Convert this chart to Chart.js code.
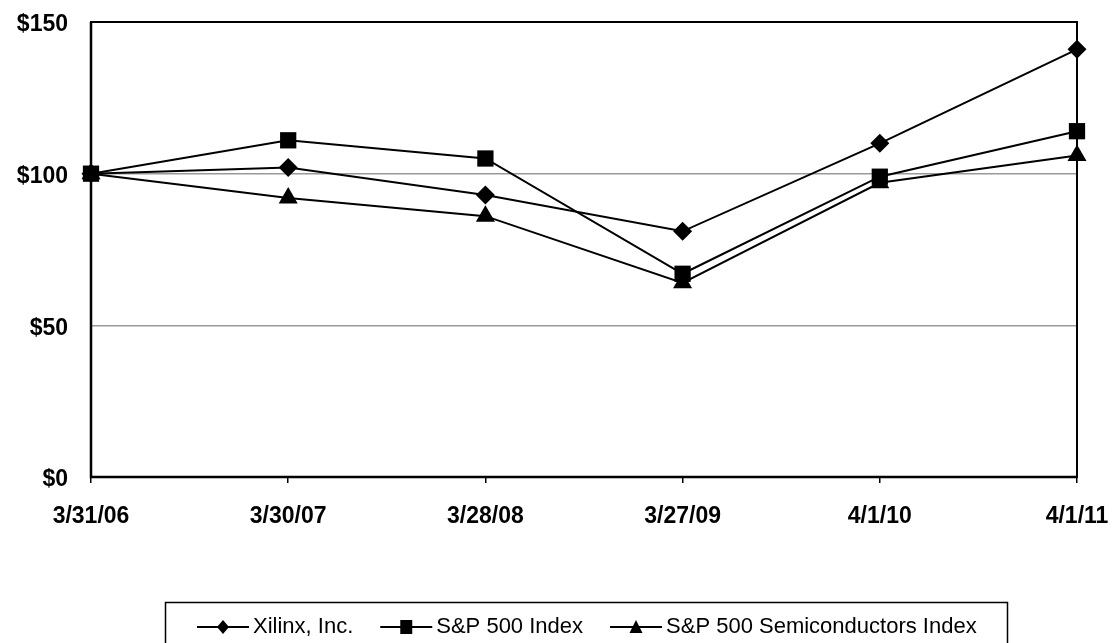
<!DOCTYPE html>
<html>
<head>
<meta charset="utf-8">
<script src="https://cdn.jsdelivr.net/npm/chart.js@4"></script>
<style>
  html, body { margin: 0; padding: 0; background: #fff; overflow: hidden; }
  #wrap { width: 1115px; height: 643px; position: relative; }
</style>
</head>
<body>
<div id="wrap"><canvas id="perfChart" width="1115" height="643"></canvas></div>
<script>
const dates = ['3/31/06', '3/30/07', '3/28/08', '3/27/09', '4/1/10', '4/1/11'];
const xilinx = [100, 102, 93, 81, 110, 141];
const sp500 = [100, 111, 105, 67, 99, 114];
const semis = [100, 92, 86, 64, 97, 106];
const yTicks = [0, 50, 100, 150];

const FONT = 'Arial, "Liberation Sans", sans-serif';

// black frame round the plot, heavier on the two axes
const framePlugin = {
  id: 'frame',
  beforeDatasetsDraw(chart) {
    const { ctx, chartArea: a } = chart;
    ctx.save();
    ctx.strokeStyle = '#000';
    ctx.lineWidth = 2;
    ctx.strokeRect(a.left, a.top, a.right - a.left, a.bottom - a.top);
    ctx.lineWidth = 2.5;
    ctx.beginPath();
    ctx.moveTo(a.left, a.top);
    ctx.lineTo(a.left, a.bottom);
    ctx.lineTo(a.right, a.bottom);
    ctx.stroke();
    ctx.restore();
  }
};

// boxed legend at the bottom, line with the marker in its middle
const legendPlugin = {
  id: 'boxLegend',
  afterDraw(chart) {
    const { ctx } = chart;
    const sets = chart.data.datasets;
    ctx.save();
    ctx.strokeStyle = '#000';
    ctx.lineWidth = 1.5;
    ctx.strokeRect(165.5, 602.5, 842, 60);
    ctx.font = '22px ' + FONT;
    ctx.textBaseline = 'middle';
    const seg = 52, gap = 4, spacing = 27;
    const y = 627;
    let x = 197;
    sets.forEach(ds => {
      ctx.strokeStyle = '#000';
      ctx.lineWidth = 2;
      ctx.beginPath();
      ctx.moveTo(x, y);
      ctx.lineTo(x + seg, y);
      ctx.stroke();
      const mx = x + seg / 2;
      ctx.fillStyle = '#000';
      ctx.beginPath();
      if (ds.pointStyle === 'rectRot') {
        ctx.moveTo(mx, y - 7); ctx.lineTo(mx + 6, y); ctx.lineTo(mx, y + 7); ctx.lineTo(mx - 6, y);
      } else if (ds.pointStyle === 'rect') {
        ctx.rect(mx - 6, y - 7, 12, 14);
      } else {
        ctx.moveTo(mx, y - 7); ctx.lineTo(mx + 6.5, y + 6); ctx.lineTo(mx - 6.5, y + 6);
      }
      ctx.closePath();
      ctx.fill();
      x += seg + gap;
      ctx.fillText(ds.label, x, y);
      x += ctx.measureText(ds.label).width + spacing;
    });
    ctx.restore();
  }
};

function series(label, data, style, radius) {
  return {
    label: label,
    data: data,
    borderColor: '#000',
    backgroundColor: '#000',
    borderWidth: 2,
    pointStyle: style,
    pointRadius: radius,
    pointHoverRadius: radius,
    pointBackgroundColor: '#000',
    pointBorderColor: '#000',
    pointBorderWidth: 0,
    tension: 0,
    clip: false
  };
}

new Chart(document.getElementById('perfChart'), {
  type: 'line',
  data: {
    labels: dates,
    datasets: [
      series('Xilinx, Inc.', xilinx, 'rectRot', 9.5),
      series('S&P 500 Index', sp500, 'rect', 11.5),
      series('S&P 500 Semiconductors Index', semis, 'triangle', 11)
    ]
  },
  options: {
    responsive: false,
    animation: false,
    layout: { padding: { left: 0, right: 38, top: 22, bottom: 106 } },
    plugins: {
      legend: { display: false },
      tooltip: { enabled: false }
    },
    scales: {
      x: {
        offset: false,
        border: { display: false },
        grid: { display: true, drawOnChartArea: false, drawTicks: true, tickLength: 6, color: '#000', lineWidth: 1.5 },
        ticks: {
          color: '#000',
          padding: 20,
          maxRotation: 0,
          autoSkip: false,
          font: { family: FONT, size: 23, weight: 'bold' }
        },
        afterFit(s) {
          s.height = 60;
          s.paddingLeft = 0;
          s.paddingRight = 0;
        }
      },
      y: {
        min: 0,
        max: 150,
        border: { display: false },
        afterBuildTicks(s) { s.ticks = yTicks.map(v => ({ value: v })); },
        grid: {
          drawTicks: false,
          color: ctx => (ctx.tick.value === 0 || ctx.tick.value === 150) ? 'rgba(0,0,0,0)' : '#999',
          lineWidth: 1.5
        },
        ticks: {
          color: '#000',
          padding: 23,
          labelOffset: 3,
          font: { family: FONT, size: 23, weight: 'bold' },
          callback: v => '$' + v
        },
        afterFit(s) {
          s.width = 91;
          s.paddingTop = 0;
          s.paddingBottom = 0;
        }
      }
    }
  },
  plugins: [framePlugin, legendPlugin]
});
</script>
</body>
</html>
